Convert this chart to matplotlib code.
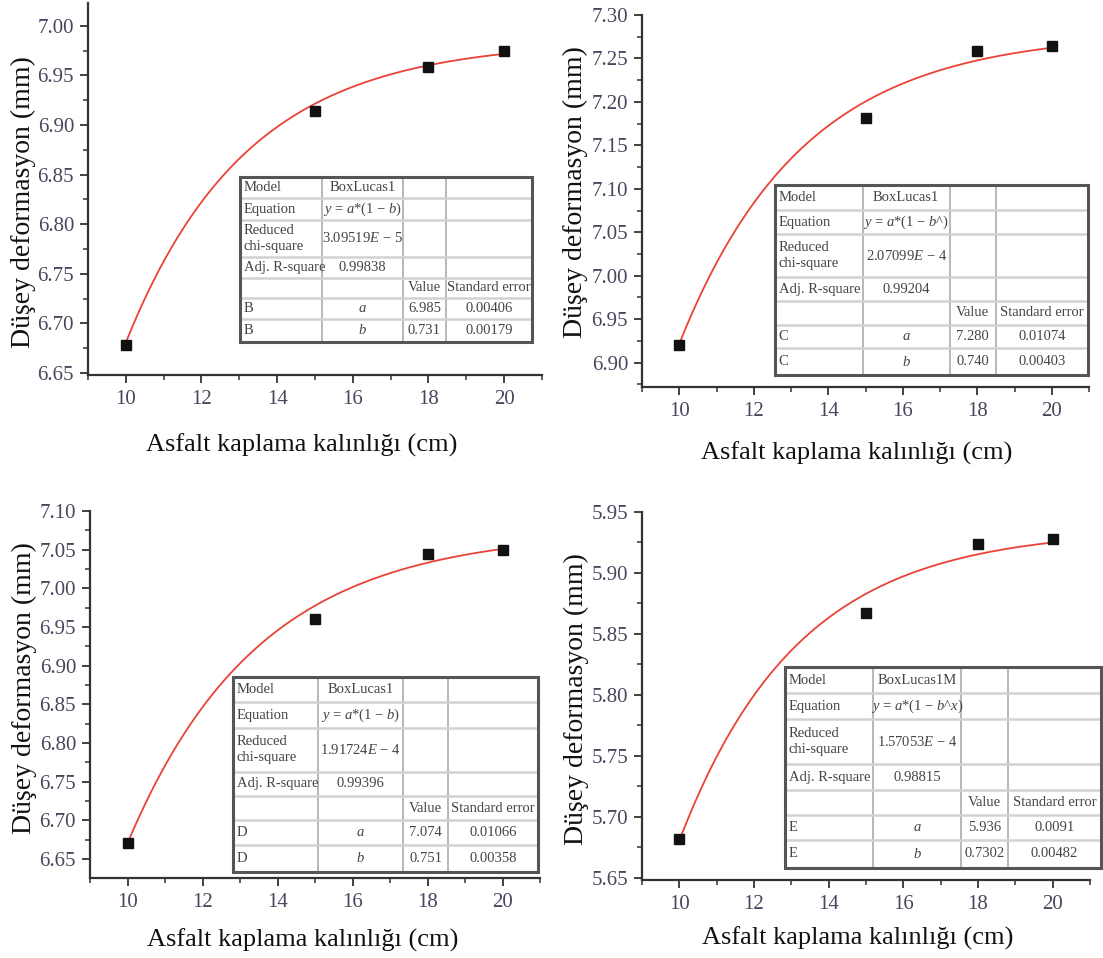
import numpy as np
import matplotlib.pyplot as plt

plt.rcParams['font.family'] = ['Liberation Serif', 'DejaVu Serif']
plt.rcParams['mathtext.fontset'] = 'custom'
plt.rcParams['mathtext.rm'] = 'Liberation Serif'
plt.rcParams['mathtext.it'] = 'Liberation Serif:italic'

# measured data (x = asphalt thickness, y = vertical deformation)
thickness = [10, 15, 18, 20]
defo_b = [6.678, 6.914, 6.958, 6.975]
defo_c = [6.920, 7.182, 7.259, 7.264]
defo_d = [6.671, 6.961, 7.044, 7.049]
defo_e = [5.682, 5.867, 5.924, 5.928]

# fit results shown in the tables
series = ['B', 'C', 'D', 'E']
models = ['BoxLucas1', 'BoxLucas1', 'BoxLucas1', 'BoxLucas1M']
equations = [r'$y$ = $a$*(1 − $b$)', r'$y$ = $a$*(1 − $b$^)',
             r'$y$ = $a$*(1 − $b$)', r'$y$ = $a$*(1 − $b$^$x$)']
chi_sq = [r'3.09519$E$ − 5', r'2.07099$E$ − 4', r'1.91724$E$ − 4', r'1.57053$E$ − 4']
adj_r2 = ['0.99838', '0.99204', '0.99396', '0.98815']
a_val = ['6.985', '7.280', '7.074', '5.936']
a_err = ['0.00406', '0.01074', '0.01066', '0.0091']
b_val = ['0.731', '0.740', '0.751', '0.7302']
b_err = ['0.00179', '0.00403', '0.00358', '0.00482']

y_ticks = [np.arange(6.65, 7.001, 0.05), np.arange(6.90, 7.301, 0.05),
           np.arange(6.65, 7.101, 0.05), np.arange(5.65, 5.951, 0.05)]
y_lims = [(6.648, 7.023), (6.872, 7.300), (6.6255, 7.100), (5.648, 5.950)]

W, H = 1103, 958
# axes boxes in pixels: left, right, top, bottom
ax_px = [(88, 542, 3, 375), (642, 1089, 15, 387), (90, 540, 511, 878), (642, 1090, 512, 880)]
tab_px = [(240, 532, 177, 342), (775, 1088, 185, 375), (233, 538, 677, 872), (785, 1101, 667, 868)]
ylab = [(36, 202), (588, 192), (37, 688), (589, 699)]      # right edge x, centre y
xlab = [(302, 434), (857, 442), (303, 929), (858, 927)]    # centre x, top y
col_fr = [0.28, 0.278, 0.147, 0.295]
row_fr = [0.13, 0.13, 0.225, 0.125, 0.125, 0.125, 0.14]

all_y = [defo_b, defo_c, defo_d, defo_e]

fig = plt.figure(figsize=(W / 100, H / 100), dpi=100)

for i in range(4):
    l, r, t, b = ax_px[i]
    ax = fig.add_axes([l / W, 1 - b / H, (r - l) / W, (b - t) / H])
    ax.set_facecolor('none')

    xs = np.linspace(10, 20, 200)
    a = float(a_val[i])
    bb = float(b_val[i])
    ax.plot(xs, a * (1 - bb ** xs), color='#ea4236', lw=1.3, zorder=2)
    ax.plot(thickness, all_y[i], 's', color='#111111', ms=6.5, zorder=3)

    ax.set_xlim(9, 21)
    ax.set_xticks([10, 12, 14, 16, 18, 20])
    ax.set_xticks(np.arange(9, 22, 1), minor=True)
    ax.set_yticks(y_ticks[i])
    ax.set_yticks(np.arange(y_ticks[i][0] - 0.025, y_lims[i][1], 0.025), minor=True)
    ax.set_ylim(*y_lims[i])
    ax.yaxis.set_major_formatter(plt.FormatStrFormatter('%.2f'))

    for s in ['top', 'right']:
        ax.spines[s].set_visible(False)
    for s in ['left', 'bottom']:
        ax.spines[s].set_color('#333333')
        ax.spines[s].set_linewidth(1.6)
    ax.tick_params(which='major', direction='out', length=6, width=1.3,
                   color='#333333', labelsize=15, labelcolor='#46465c', pad=4)
    ax.tick_params(axis='x', which='major', pad=5)
    ax.tick_params(which='minor', direction='out', length=3.5, width=1.1, color='#333333')

    ax.set_ylabel('Düşey deformasyon (mm)', fontsize=20, color='#111111')
    ax.yaxis.set_label_coords((ylab[i][0] - l) / (r - l), (b - ylab[i][1]) / (b - t))
    ax.set_xlabel('Asfalt kaplama kalınlığı (cm)', fontsize=19, color='#111111')
    ax.xaxis.set_label_coords((xlab[i][0] - l) / (r - l), (b - xlab[i][1]) / (b - t))

    # fit result table
    tl, tr, tt, tb = tab_px[i]
    tax = fig.add_axes([tl / W, 1 - tb / H, (tr - tl) / W, (tb - tt) / H])
    tax.set_xlim(0, 1)
    tax.set_ylim(1, 0)
    tax.axis('off')
    tax.add_patch(plt.Rectangle((0, 0), 1, 1, facecolor='white', edgecolor='none', zorder=0))
    cx = np.concatenate([[0], np.cumsum(col_fr)])
    ry = np.concatenate([[0], np.cumsum(row_fr)])
    for x in cx[1:-1]:
        tax.plot([x, x], [0, 1], color='#b8b8b8', lw=1.4, zorder=1)
    for y in ry[1:-1]:
        tax.plot([0, 1], [y, y], color='#d2d2d2', lw=1.8, zorder=1)
    tax.add_patch(plt.Rectangle((0, 0), 1, 1, facecolor='none', edgecolor='#555555',
                                lw=2.2, zorder=3, clip_on=False))

    rows = [['Model', models[i], '', ''],
            ['Equation', equations[i], '', ''],
            ['Reduced\nchi-square', chi_sq[i], '', ''],
            ['Adj. R-square', adj_r2[i], '', ''],
            ['', '', 'Value', 'Standard error'],
            [series[i], '$a$', a_val[i], a_err[i]],
            [series[i], '$b$', b_val[i], b_err[i]]]
    for ri, row in enumerate(rows):
        ymid = (ry[ri] + ry[ri + 1]) / 2
        for ci, txt in enumerate(row):
            if not txt:
                continue
            if ci == 0:
                tax.text(cx[0] + 0.012, ymid, txt, ha='left', va='center', fontsize=10.5,
                         color='#444444', linespacing=1.3)
            else:
                tax.text((cx[ci] + cx[ci + 1]) / 2, ymid, txt, ha='center', va='center',
                         fontsize=10.5, color='#444444')

fig.savefig('out.png', dpi=100)
